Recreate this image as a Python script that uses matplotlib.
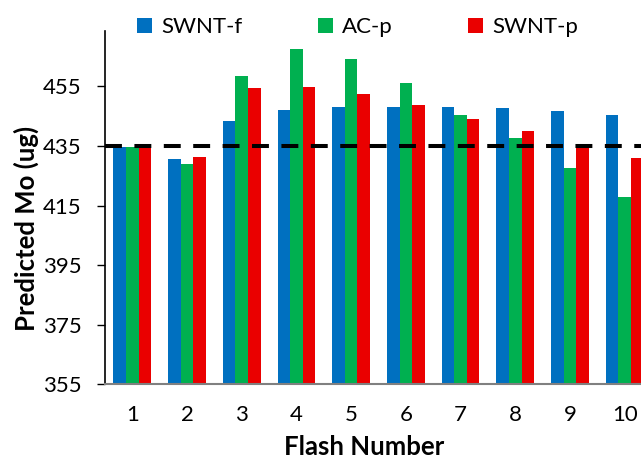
import matplotlib
matplotlib.use("Agg")
import matplotlib.pyplot as plt
import numpy as np

flash = [1, 2, 3, 4, 5, 6, 7, 8, 9, 10]
swnt_f = [434.6, 430.5, 443.5, 447.0, 448.2, 448.2, 448.2, 447.7, 446.8, 445.5]
ac_p = [434.6, 429.0, 458.5, 467.4, 464.2, 456.2, 445.4, 437.6, 427.5, 417.8]
swnt_p = [434.8, 431.4, 454.4, 454.8, 452.5, 448.7, 444.1, 439.9, 434.4, 430.9]
series = [("SWNT-f", swnt_f, "#0070C0"), ("AC-p", ac_p, "#00B050"), ("SWNT-p", swnt_p, "#EA0000")]
reference = 435
yticks = [355, 375, 395, 415, 435, 455]

plt.rcParams['font.family'] = ['Lato', 'DejaVu Sans']

W, H = 641, 461
fig = plt.figure(figsize=(W / 100, H / 100), dpi=100)
left_px, right_px, top_px, bot_px = 105, 652, 31, 384.3
ax = fig.add_axes([left_px / W, 1 - bot_px / H, (right_px - left_px) / W, (bot_px - top_px) / H])

x = np.arange(1, len(flash) + 1)
bw = 0.23
for i, (name, vals, col) in enumerate(series):
    ax.bar(x + (i - 1) * bw, np.array(vals) - 355, bw, bottom=355, color=col, label=name, linewidth=0)

ax.plot([0.5, 10.5], [reference, reference], color="black", lw=2.9, dashes=(4.2, 3.1), zorder=5,
        clip_on=False)

ax.set_xlim(0.5, 10.5)
ax.set_ylim(355, 473.6)
ax.set_yticks(yticks)
ax.set_xticks(x)
ax.set_xticklabels([str(v) for v in flash])
ax.tick_params(axis='y', length=6, width=1, labelsize=16, pad=11, direction='out')
ax.tick_params(axis='x', length=0, labelsize=16, pad=15)

for s in ['top', 'right']:
    ax.spines[s].set_visible(False)
ax.spines['left'].set_color('black')
ax.spines['left'].set_linewidth(1.2)
ax.spines['bottom'].set_color('#808080')
ax.spines['bottom'].set_linewidth(1.5)

fig.text(26 / W, 1 - 228 / H, "Predicted Mo (ug)", rotation=90, ha='center', va='center',
         fontsize=18.5, fontweight='bold')
fig.text(364 / W, 1 - 447 / H, "Flash Number", ha='center', va='center',
         fontsize=18.5, fontweight='bold')

leg = fig.legend(loc='center left', bbox_to_anchor=(137 / W, 1 - 27 / H), ncol=3, frameon=False,
                 fontsize=16, handlelength=0.68, handleheight=0.68, handletextpad=0.4,
                 columnspacing=3.4, borderaxespad=0, borderpad=0)

fig.savefig("out.png", dpi=100)
